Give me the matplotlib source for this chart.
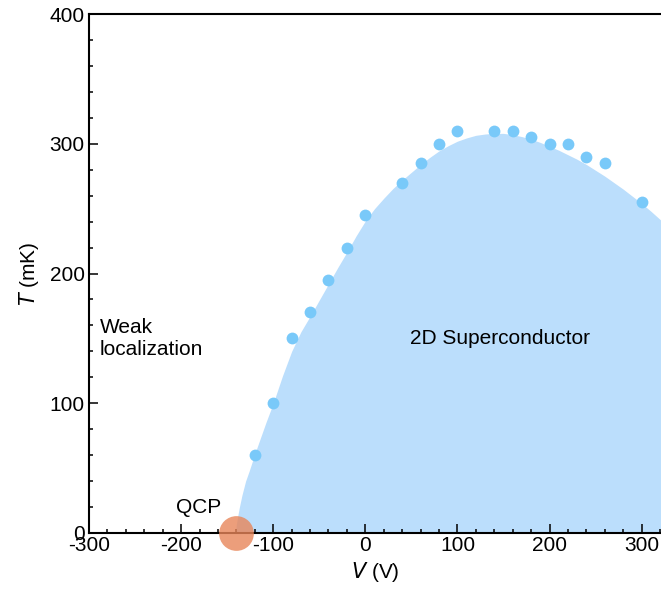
import matplotlib
matplotlib.use("Agg")
import matplotlib.pyplot as plt
from matplotlib.ticker import MultipleLocator

plt.rcParams['font.family'] = ['Liberation Sans', 'DejaVu Sans']
plt.rcParams['axes.unicode_minus'] = False

# measured Tc points
v_data = [-120, -100, -80, -60, -40, -20, 0, 40, 60, 80, 100, 140, 160, 180, 200, 220, 240, 260, 300]
t_data = [60, 100, 150, 170, 195, 220, 245, 270, 285, 300, 310, 310, 310, 305, 300, 300, 290, 285, 255]

# edge of the superconducting dome
v_dome = [-141, -140, -139, -137, -134, -130, -126, -120, -114, -108, -100, -90, -80, -70, -60,
          -50, -40, -30, -20, -10, 0, 10, 20, 30, 40, 50, 60, 70, 80, 90, 100, 110, 120, 130,
          140, 150, 160, 170, 180, 190, 200, 210, 220, 230, 240, 250, 260, 270, 280, 290, 300,
          310, 321]
t_dome = [0, 7, 11, 19, 29, 40, 48, 61, 73, 85, 100, 121, 140, 155, 167,
          179.5, 192, 204.5, 216.5, 229, 240.5, 250, 258, 265.5, 272, 278, 284, 289.5, 294.5, 298.5, 302, 304.5, 306.5, 307.5,
          308, 308, 307, 305.5, 303.5, 301, 298, 295, 291.5, 288, 284, 279.5, 275, 270, 265, 259.5, 254,
          248, 241]

qcp_v, qcp_t = -140, 0

fig = plt.figure(figsize=(6.61, 5.97), dpi=100)
ax = fig.add_axes([89 / 661, 64 / 597, 572 / 661, 519 / 597])

ax.fill_between(v_dome, t_dome, 0, color='#bbdefc', lw=0, zorder=1)
ax.plot(v_data, t_data, 'o', color='#79c9f9', ms=8.5, mec='none', zorder=3)
ax.plot(qcp_v, qcp_t, 'o', color='#e8865a', alpha=0.8, ms=25, mec='none', zorder=4, clip_on=False)

ax.text(-288, 150, 'Weak\nlocalization', fontsize=15, ha='left', va='center', linespacing=1.2)
ax.text(146, 150, '2D Superconductor', fontsize=15, ha='center', va='center')
ax.text(-181, 20, 'QCP', fontsize=15, ha='center', va='center')

ax.set_xlim(-300, 321)
ax.set_ylim(0, 400)
ax.xaxis.set_major_locator(MultipleLocator(100))
ax.xaxis.set_minor_locator(MultipleLocator(20))
ax.yaxis.set_major_locator(MultipleLocator(100))
ax.yaxis.set_minor_locator(MultipleLocator(20))
ax.tick_params(which='both', direction='in', top=False, right=False, labelsize=15, width=1.1)
ax.tick_params(which='major', length=6.5)
ax.tick_params(which='minor', length=3)
ax.tick_params(axis='x', pad=2)
ax.tick_params(axis='y', pad=3)
for side in ['left', 'bottom', 'top']:
    ax.spines[side].set_linewidth(1.5)
ax.spines['right'].set_visible(False)

ax.set_xlabel(r'$\it{V}$ (V)', fontsize=15, labelpad=4)
ax.set_ylabel(r'$\it{T}$ (mK)', fontsize=15, labelpad=6)

fig.savefig('out.png', dpi=100)
